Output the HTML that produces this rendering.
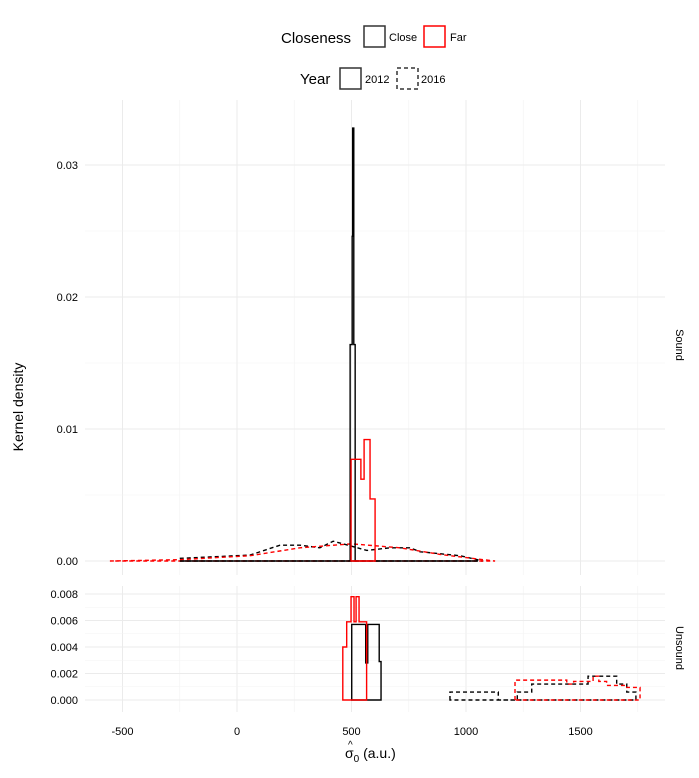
<!DOCTYPE html>
<html><head><meta charset="utf-8"><style>
body{margin:0;background:#fff;}
svg text{font-family:"Liberation Sans",sans-serif;}
</style></head><body>
<svg id="chart" width="699" height="773" viewBox="0 0 699 773" xmlns="http://www.w3.org/2000/svg">
<g id="grid"></g><g id="marks"></g><g id="axes"></g>
<g>
<text x="281" y="43" font-size="15">Closeness</text>
<rect x="364" y="26" width="21" height="21" fill="none" stroke="#333" stroke-width="1.5"/>
<text x="389" y="41" font-size="11">Close</text>
<rect x="424" y="26" width="21" height="21" fill="none" stroke="#f00" stroke-width="1.5"/>
<text x="450" y="41" font-size="11">Far</text>
<text x="300" y="84" font-size="15">Year</text>
<rect x="340" y="68" width="21" height="21" fill="none" stroke="#333" stroke-width="1.5"/>
<text x="365" y="83" font-size="11">2012</text>
<rect x="397" y="68" width="21" height="21" fill="none" stroke="#333" stroke-width="1.5" stroke-dasharray="4,3"/>
<text x="421" y="83" font-size="11">2016</text>
</g>
<text transform="translate(23,407) rotate(-90)" text-anchor="middle" font-size="14">Kernel density</text>
<text x="345" y="758" font-size="14"><tspan>σ</tspan><tspan font-size="10" dy="4">0</tspan><tspan dy="-4"> (a.u.)</tspan></text>
<text x="348" y="748" font-size="10">^</text>
<text transform="translate(676,345) rotate(90)" text-anchor="middle" font-size="11">Sound</text>
<text transform="translate(676,648) rotate(90)" text-anchor="middle" font-size="11">Unsound</text>
</svg>
<script>
const xTicks=[-500,0,500,1000,1500];
const xMinor=[-250,250,750,1250,1750];
const topTicks=[0,0.01,0.02,0.03];
const topMinor=[0.005,0.015,0.025];
const botTicks=[0,0.002,0.004,0.006,0.008];
const botMinor=[0.001,0.003,0.005,0.007];
const closeSound2012X=[-250,494,503,505,510,516,1050];
const closeSound2012Y=[0,0.0164,0.0246,0.0328,0.0164,0,0];
const farSound2012X=[498,541,555,581,603];
const farSound2012Y=[0.0077,0.0062,0.0092,0.0047,0];
const closeSound2016X=[-250,57,188,275,362,420,463,567,668,755,800,974,1075];
const closeSound2016Y=[0.0002,0.00045,0.0012,0.0012,0.0010,0.0015,0.0013,0.0008,0.001,0.001,0.0007,0.0004,0];
const farSound2016X=[-555,-250,57,275,500,712,886,1075,1127];
const farSound2016Y=[0,0.0001,0.0004,0.001,0.0013,0.001,0.0005,0.0001,0];
const farUnsound2012X=[462,479,498,511,520,533,566];
const farUnsound2012Y=[0.004,0.0059,0.0078,0.0059,0.0078,0.0059,0];
const closeUnsound2012X=[501,562,571,621,629];
const closeUnsound2012Y=[0.0057,0.0028,0.0057,0.0029,0];
const closeUnsound2016X=[930,1141,1224,1243,1287,1533,1658,1702,1742];
const closeUnsound2016Y=[0.0006,0,0.0006,0.0006,0.0012,0.0018,0.0012,0.0006,0];
const farUnsound2016X=[1214,1440,1470,1555,1580,1614,1702,1760];
const farUnsound2016Y=[0.0015,0.0012,0.0014,0.0018,0.0014,0.0011,0.00095,0];

const NS='http://www.w3.org/2000/svg';
const X0=85,X1=665;
const xs=v=>237+v*0.229;
const yTop=v=>561-v*13200;
const yBot=v=>700-v*13250;
const grid=document.getElementById('grid'),marks=document.getElementById('marks'),axes=document.getElementById('axes');
function mk(tag,attrs,parent){const e=document.createElementNS(NS,tag);for(const k in attrs)e.setAttribute(k,attrs[k]);parent.appendChild(e);return e;}
const panels=[{y:yTop,t:100,b:575,ticks:topTicks,minor:topMinor,fmt:v=>v.toFixed(2)},{y:yBot,t:586,b:712,ticks:botTicks,minor:botMinor,fmt:v=>v.toFixed(3)}];
panels.forEach((p,i)=>{
  xMinor.forEach(v=>{const l=mk('line',{x1:xs(v),x2:xs(v),y1:p.t,y2:p.b,stroke:'#f3f3f3','stroke-width':0.6},grid);
    
    });
  xTicks.forEach(v=>{const l=mk('line',{x1:xs(v),x2:xs(v),y1:p.t,y2:p.b,stroke:'#ebebeb','stroke-width':1},grid);
    
    });
  p.minor.forEach(v=>{const l=mk('line',{x1:X0,x2:X1,y1:p.y(v),y2:p.y(v),stroke:'#f3f3f3','stroke-width':0.6},grid);
    
    });
  p.ticks.forEach(v=>{const l=mk('line',{x1:X0,x2:X1,y1:p.y(v),y2:p.y(v),stroke:'#ebebeb','stroke-width':1},grid);
    
    
    const t=mk('text',{x:78,y:p.y(v)+4,'text-anchor':'end','font-size':11},axes);t.textContent=p.fmt(v);
    
    });
});
xTicks.forEach(v=>{const t=mk('text',{x:xs(v),y:735,'text-anchor':'middle','font-size':11},axes);t.textContent=v;
  
  });
function step(X,Y,yf,color,dash,name){
  let d='M'+xs(X[0])+','+yf(0);
  for(let i=0;i<X.length;i++){const x=xs(X[i]);d+=' L'+x+','+yf(Y[i]);if(i<X.length-1)d+=' L'+xs(X[i+1])+','+yf(Y[i]);}
  d+=' L'+xs(X[X.length-1])+','+yf(0)+' Z';
  const e=mk('path',{d:d,fill:'none',stroke:color,'stroke-width':1.4,'stroke-dasharray':dash?'4,3':'none'},marks);
  
  
}
function line(X,Y,yf,color,name){
  let d='';for(let i=0;i<X.length;i++)d+=(i?' L':'M')+xs(X[i])+','+yf(Y[i]);
  d+=' L'+xs(X[0])+','+yf(0)+' Z';
  const e=mk('path',{d:d,fill:'none',stroke:color,'stroke-width':1.4,'stroke-dasharray':'4,3'},marks);
  
  
}
line(closeSound2016X,closeSound2016Y,yTop,'#000','close-2016-sound');
line(farSound2016X,farSound2016Y,yTop,'#f00','far-2016-sound');
step(closeSound2012X,closeSound2012Y,yTop,'#000',false,'close-2012-sound');
step(farSound2012X,farSound2012Y,yTop,'#f00',false,'far-2012-sound');
step(closeUnsound2016X,closeUnsound2016Y,yBot,'#000',true,'close-2016-unsound');
step(farUnsound2016X,farUnsound2016Y,yBot,'#f00',true,'far-2016-unsound');
step(closeUnsound2012X,closeUnsound2012Y,yBot,'#000',false,'close-2012-unsound');
step(farUnsound2012X,farUnsound2012Y,yBot,'#f00',false,'far-2012-unsound');
</script>
</body></html>
